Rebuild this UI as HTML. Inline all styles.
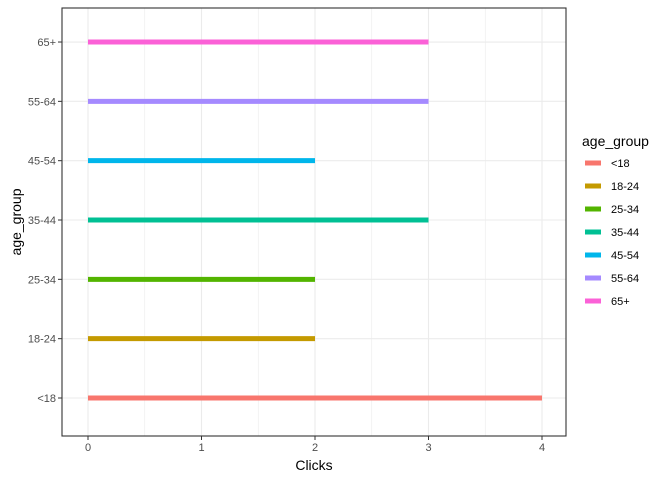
<!DOCTYPE html>
<html><head><meta charset="utf-8"><style>
body{margin:0;background:#fff;font-family:"Liberation Sans",Arial,sans-serif}
</style></head><body>
<svg id="c" width="672" height="480" xmlns="http://www.w3.org/2000/svg"></svg>
<script>
const categories=["<18","18-24","25-34","35-44","45-54","55-64","65+"];
const clicks=[4,2,2,3,2,3,3];
const colors=["#F8766D","#C49A00","#53B400","#00C094","#00B6EB","#A58AFF","#FB61D7"];
const xTicks=[0,1,2,3,4];
const NS="http://www.w3.org/2000/svg";
const svg=document.getElementById('c');
const L=62,R=566,T=8,B=436;
const x=v=>88+v*113.5;
const y=i=>398-i*59.33;
function el(tag,attrs,parent){const e=document.createElementNS(NS,tag);for(const k in attrs)e.setAttribute(k,attrs[k]);(parent||svg).appendChild(e);return e;}
// grid
for(let i=0;i<xTicks.length;i++){
  const g=el('line',{x1:x(xTicks[i]),x2:x(xTicks[i]),y1:T,y2:B,stroke:'#ebebeb','stroke-width':1.1});
  
  
  if(i<xTicks.length-1){const m=el('line',{x1:x(xTicks[i]+0.5),x2:x(xTicks[i]+0.5),y1:T,y2:B,stroke:'#ebebeb','stroke-width':0.55});
  
  }
}
categories.forEach((c,i)=>{
  const g=el('line',{x1:L,x2:R,y1:y(i),y2:y(i),stroke:'#ebebeb','stroke-width':1.1});
  
  
});
// bars
categories.forEach((c,i)=>{
  const s=el('line',{x1:x(0),x2:x(clicks[i]),y1:y(i),y2:y(i),stroke:colors[i],'stroke-width':5});
  
  
});
const fr=el('rect',{x:L,y:T,width:R-L,height:B-T,fill:'none',stroke:'#333','stroke-width':1.1});


// ticks
xTicks.forEach(v=>{
  el('line',{x1:x(v),x2:x(v),y1:B,y2:B+4,stroke:'#333'});
  const t=el('text',{x:x(v),y:B+15,'text-anchor':'middle','font-size':11,fill:'#4d4d4d'});t.textContent=v;
  
  
});
categories.forEach((c,i)=>{
  el('line',{x1:L-4,x2:L,y1:y(i),y2:y(i),stroke:'#333'});
  const t=el('text',{x:L-6,y:y(i)+4,'text-anchor':'end','font-size':11,fill:'#4d4d4d'});t.textContent=c;
  
  
});
const xt=el('text',{x:(L+R)/2,y:470,'text-anchor':'middle','font-size':14,fill:'#000'});xt.textContent='Clicks';


const yt=el('text',{x:21,y:(T+B)/2,'text-anchor':'middle','font-size':14,fill:'#000',transform:`rotate(-90 21 ${(T+B)/2})`});yt.textContent='age_group';


// legend
const lt=el('text',{x:582,y:146,'font-size':14,fill:'#000'});lt.textContent='age_group';


categories.forEach((c,i)=>{
  const yy=163+i*23;
  const k=el('line',{x1:585,x2:601,y1:yy,y2:yy,stroke:colors[i],'stroke-width':5});
  
  
  const t=el('text',{x:611,y:yy+4,'font-size':11,fill:'#000'});t.textContent=c;
  
  
});
</script>
</body></html>
